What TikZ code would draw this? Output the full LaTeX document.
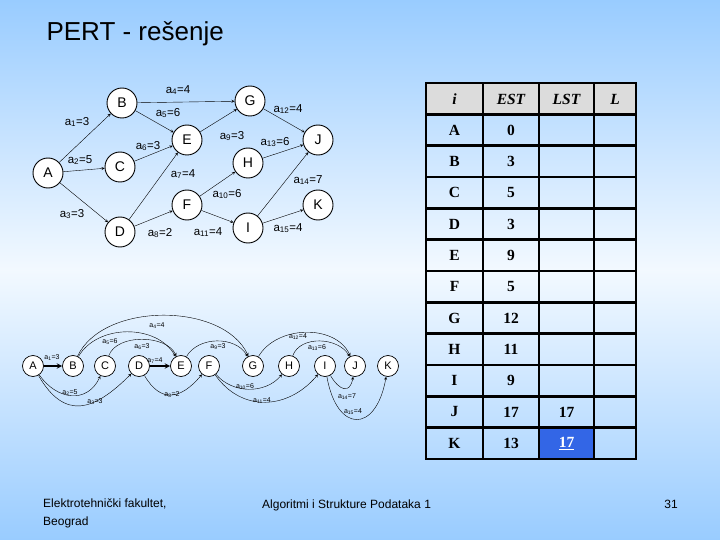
\documentclass[tikz,border=0pt]{standalone}
\usepackage{fontspec}
\setmainfont{Liberation Sans}
\newfontfamily\tabfont{Liberation Serif}
\usepackage{xcolor}
\definecolor{bgblue}{HTML}{99CCFF}
\definecolor{hdrgray}{HTML}{DCDCDC}
\definecolor{hiblue}{HTML}{3366E6}
\newcommand{\act}[2]{a\textsubscript{#1}=#2}

\begin{document}
\begin{tikzpicture}[x=1pt,y=1pt,>=stealth,
  vert/.style={circle,draw,fill=white,line width=0.9pt,minimum size=30pt,inner sep=0pt,font=\fontsize{14}{14}\selectfont},
  svert/.style={circle,draw,fill=white,line width=0.7pt,minimum size=21pt,inner sep=0pt,font=\fontsize{11}{11}\selectfont},
  lbl/.style={inner sep=0pt,font=\fontsize{11.5}{12}\selectfont},
  slbl/.style={inner sep=0pt,font=\fontsize{7}{7}\selectfont},
  cell/.style={font=\tabfont\bfseries\fontsize{15.5}{15.5}\selectfont}]
  \shade[top color=bgblue,bottom color=bgblue,middle color=bgblue!12] (0,0) rectangle (720,-540);
  \useasboundingbox (0,0) rectangle (720,-540);

  % title and footer
  \node[anchor=west,font=\fontsize{26}{26}\selectfont] (title) at (43,-34) {PERT - rešenje};
  \node[anchor=north west,align=left,inner sep=0pt,font=\fontsize{12}{18}\selectfont] (fac) at (43,-499) {Elektrotehnički fakultet,\\Beograd};
  \node[anchor=base west,inner sep=0pt,font=\fontsize{12}{12}\selectfont] (course) at (262,-508) {Algoritmi i Strukture Podataka 1};
  \node[anchor=base east,inner sep=0pt,font=\fontsize{12}{12}\selectfont] (page) at (678,-508) {31};

  % network
  \node[vert] (A) at (48,-173) {A};
  \node[vert] (B) at (122,-103) {B};
  \node[vert] (C) at (120,-167) {C};
  \node[vert] (D) at (120,-232) {D};
  \node[vert] (E) at (187,-140) {E};
  \node[vert] (F) at (187,-205) {F};
  \node[vert] (G) at (250,-101) {G};
  \node[vert] (H) at (248,-163) {H};
  \node[vert] (I) at (248,-228) {I};
  \node[vert] (J) at (318,-140) {J};
  \node[vert] (K) at (318,-205) {K};
  \draw[->] (A) -- (B);
  \draw[->] (A) -- (C);
  \draw[->] (A) -- (D);
  \draw[->] (B) -- (G);
  \draw[->] (B) -- (E);
  \draw[->] (C) -- (E);
  \draw[->] (D) -- (E);
  \draw[->] (D) -- (F);
  \draw[->] (E) -- (G);
  \draw[->] (F) -- (H);
  \draw[->] (F) -- (I);
  \draw[->] (G) -- (J);
  \draw[->] (H) -- (J);
  \draw[->] (I) -- (J);
  \draw[->] (I) -- (K);
  \node[lbl] (t1) at (77,-122) {\act{1}{3}};
  \node[lbl] (t2) at (80,-160) {\act{2}{5}};
  \node[lbl] (t3) at (72,-214) {\act{3}{3}};
  \node[lbl] (t4) at (178,-90) {\act{4}{4}};
  \node[lbl] (t5) at (168,-113) {\act{5}{6}};
  \node[lbl] (t6) at (148,-146) {\act{6}{3}};
  \node[lbl] (t7) at (183,-174) {\act{7}{4}};
  \node[lbl] (t8) at (160,-233) {\act{8}{2}};
  \node[lbl] (t9) at (232,-136) {\act{9}{3}};
  \node[lbl] (t10) at (227,-194) {\act{10}{6}};
  \node[lbl] (t11) at (208,-232) {\act{11}{4}};
  \node[lbl] (t12) at (288,-109) {\act{12}{4}};
  \node[lbl] (t13) at (275,-142) {\act{13}{6}};
  \node[lbl] (t14) at (308,-180) {\act{14}{7}};
  \node[lbl] (t15) at (288,-228) {\act{15}{4}};

  % topological order
  \node[svert] (sA) at (33,-366) {A};
  \node[svert] (sB) at (73,-366) {B};
  \node[svert] (sC) at (105,-366) {C};
  \node[svert] (sD) at (139,-366) {D};
  \node[svert] (sE) at (181,-366) {E};
  \node[svert] (sF) at (209,-366) {F};
  \node[svert] (sG) at (253,-366) {G};
  \node[svert] (sH) at (289,-366) {H};
  \node[svert] (sI) at (325,-366) {I};
  \node[svert] (sJ) at (355,-366) {J};
  \node[svert] (sK) at (388,-366) {K};
  \draw[->,line width=1.4pt] (sA) -- (sB);
  \draw[->,line width=1.4pt] (sD) -- (sE);
  \draw[->,thin] (sA) to[out=-55,in=-115,looseness=1.3] (sC);
  \draw[->,thin] (sA) to[out=-60,in=-135,looseness=1.45] (sD);
  \draw[->,thin] (sD) to[out=-60,in=-130,looseness=1.45] (sF);
  \draw[->,thin] (sB) to[out=65,in=115,looseness=0.9] (sG);
  \draw[->,thin] (sB) to[out=60,in=120] (sE);
  \draw[->,thin] (sC) to[out=70,in=115,looseness=0.9] (sE);
  \draw[->,thin] (sE) to[out=60,in=120] (sG);
  \draw[->,thin] (sG) to[out=60,in=115] (sJ);
  \draw[->,thin] (sH) to[out=70,in=120] (sJ);
  \draw[->,thin] (sF) to[out=-50,in=-130] (sH);
  \draw[->,thin] (sF) to[out=-55,in=-130,looseness=1.15] (sI);
  \draw[->,thin] (sI) to[out=-60,in=-100,looseness=2] (sJ);
  \draw[->,thin] (sI) to[out=-80,in=-100,looseness=2.5] (sK);
  \node[slbl] (s1) at (52,-358) {\act{1}{3}};
  \node[slbl] (s2) at (70,-393) {\act{2}{5}};
  \node[slbl] (s3) at (95,-402) {\act{3}{3}};
  \node[slbl] (s4) at (157,-326) {\act{4}{4}};
  \node[slbl] (s5) at (110,-342) {\act{5}{6}};
  \node[slbl] (s6) at (142,-347) {\act{6}{3}};
  \node[slbl] (s7) at (155,-361) {\act{7}{4}};
  \node[slbl] (s8) at (172,-395) {\act{8}{2}};
  \node[slbl] (s9) at (218,-347) {\act{9}{3}};
  \node[slbl] (s10) at (245,-387) {\act{10}{6}};
  \node[slbl] (s11) at (262,-401) {\act{11}{4}};
  \node[slbl] (s12) at (298,-337) {\act{12}{4}};
  \node[slbl] (s13) at (317,-348) {\act{13}{6}};
  \node[slbl] (s14) at (347,-397) {\act{14}{7}};
  \node[slbl] (s15) at (353,-412) {\act{15}{4}};

  % table
  \fill[hdrgray] (426,-83) rectangle (636,-114);
  \fill[hiblue] (539,-427.7) rectangle (594,-459);
  \foreach \x in {426,483,539,594,636}
    \draw[line width=2.5pt] (\x,-83) -- (\x,-459);
  \foreach \k in {0,...,12}
    \draw[line width=2.5pt,line cap=rect] (426,{-83-31.33*\k}) -- (636,{-83-31.33*\k});
  \node[cell] (hi) at (454.5,-99) {\itshape i};
  \node[cell] (hest) at (511,-99) {\itshape EST};
  \node[cell] (hlst) at (566.5,-99) {\itshape LST};
  \node[cell] (hl) at (615,-99) {\itshape L};
  \foreach \n/\e [count=\k] in {A/0,B/3,C/5,D/3,E/9,F/5,G/12,H/11,I/9,J/17,K/13} {
    \node[cell] (n\n) at (454.5,{-83-31.33*(\k+0.5)}) {\n};
    \node[cell] (e\n) at (511,{-83-31.33*(\k+0.5)}) {\e};
  }
  \node[cell] (lJ) at (566.5,{-83-31.33*10.5}) {17};
  \node[cell,text=white] (lK) at (566.5,{-83-31.33*11.5}) {\underline{17}};
\end{tikzpicture}
\end{document}
